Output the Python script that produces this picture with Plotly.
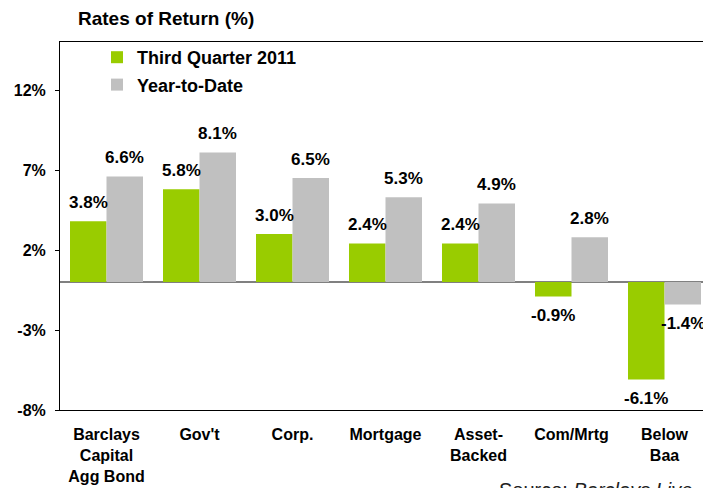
import plotly.graph_objects as go

categories = ["Barclays<br>Capital<br>Agg Bond", "Gov't", "Corp.", "Mortgage",
              "Asset-<br>Backed", "Com/Mrtg", "Below<br>Baa"]
third_quarter_2011 = [3.8, 5.8, 3.0, 2.4, 2.4, -0.9, -6.1]
year_to_date = [6.6, 8.1, 6.5, 5.3, 4.9, 2.8, -1.4]
series_names = ["Third Quarter 2011", "Year-to-Date"]
y_ticks = [-8, -3, 2, 7, 12]
y_tick_labels = ["-8%", "-3%", "2%", "7%", "12%"]

GREEN = "#99CC00"
GRAY = "#C0C0C0"
FONT = "Liberation Sans, Arial, sans-serif"

W, H = 703, 488
ML, MR, MT, MB = 60, 0, 42, 78
cat_px = 93.0
plot_w = W - ML - MR
plot_h = H - MT - MB

fig = go.Figure()
fig.add_trace(go.Bar(x=categories, y=third_quarter_2011, name=series_names[0],
                     marker=dict(color=GREEN, line=dict(width=0)), legendgroup="a"))
fig.add_trace(go.Bar(x=categories, y=year_to_date, name=series_names[1],
                     marker=dict(color=GRAY, line=dict(width=0)), legendgroup="b"))

annotations = []
half = cat_px * (1 - 0.215) / 4
for vals, shift in ((third_quarter_2011, -half), (year_to_date, half)):
    for c, v in zip(categories, vals):
        annotations.append(dict(
            x=c, y=v, xref="x", yref="y", text=f"{v:.1f}%", showarrow=False,
            xshift=shift, yshift=19 if v >= 0 else -19, yanchor="middle",
            font=dict(family=FONT, size=17, color="black", weight="bold")))

annotations.append(dict(
    x=(497 - ML) / plot_w, y=(H - MB - 477) / plot_h, xref="paper", yref="paper",
    text="Source: <i>Barclays Live</i>", showarrow=False,
    xanchor="left", yanchor="top",
    font=dict(family=FONT, size=20, color="#222222")))

fig.update_layout(
    width=W, height=H,
    margin=dict(l=ML, r=MR, t=MT, b=MB, pad=0),
    paper_bgcolor="white", plot_bgcolor="white",
    barmode="group", bargap=0.215, bargroupgap=0,
    title=dict(text="Rates of Return (%)", x=78 / W, xref="container", xanchor="left",
               y=1 - 18 / H, yref="container", yanchor="middle",
               font=dict(family=FONT, size=19, color="black", weight="bold")),
    legend=dict(x=(97 - ML) / plot_w, y=1.0 + 3 / plot_h, xanchor="left", yanchor="top",
                bgcolor="rgba(0,0,0,0)", traceorder="grouped", tracegroupgap=1,
                font=dict(family=FONT, size=18, color="black", weight="bold")),
    xaxis=dict(range=[-0.5, -0.5 + plot_w / cat_px], showline=True, linecolor="black",
               linewidth=1, mirror=True, ticks="", showgrid=False, zeroline=False,
               ticklabelstandoff=10,
               tickfont=dict(family=FONT, size=16, color="black", weight="bold")),
    yaxis=dict(range=[-8, 15], tickvals=y_ticks, ticktext=y_tick_labels,
               showline=True, linecolor="black", linewidth=1, ticks="outside",
               ticklen=4, tickcolor="black", showgrid=False,
               zeroline=True, zerolinecolor="#808080", zerolinewidth=1.5,
               ticklabelstandoff=6,
               tickfont=dict(family=FONT, size=16, color="black", weight="bold")),
    annotations=annotations,
    showlegend=True,
)

fig.write_html("out.html", config={"displayModeBar": False},
               post_script="document.body.style.margin='0';")
